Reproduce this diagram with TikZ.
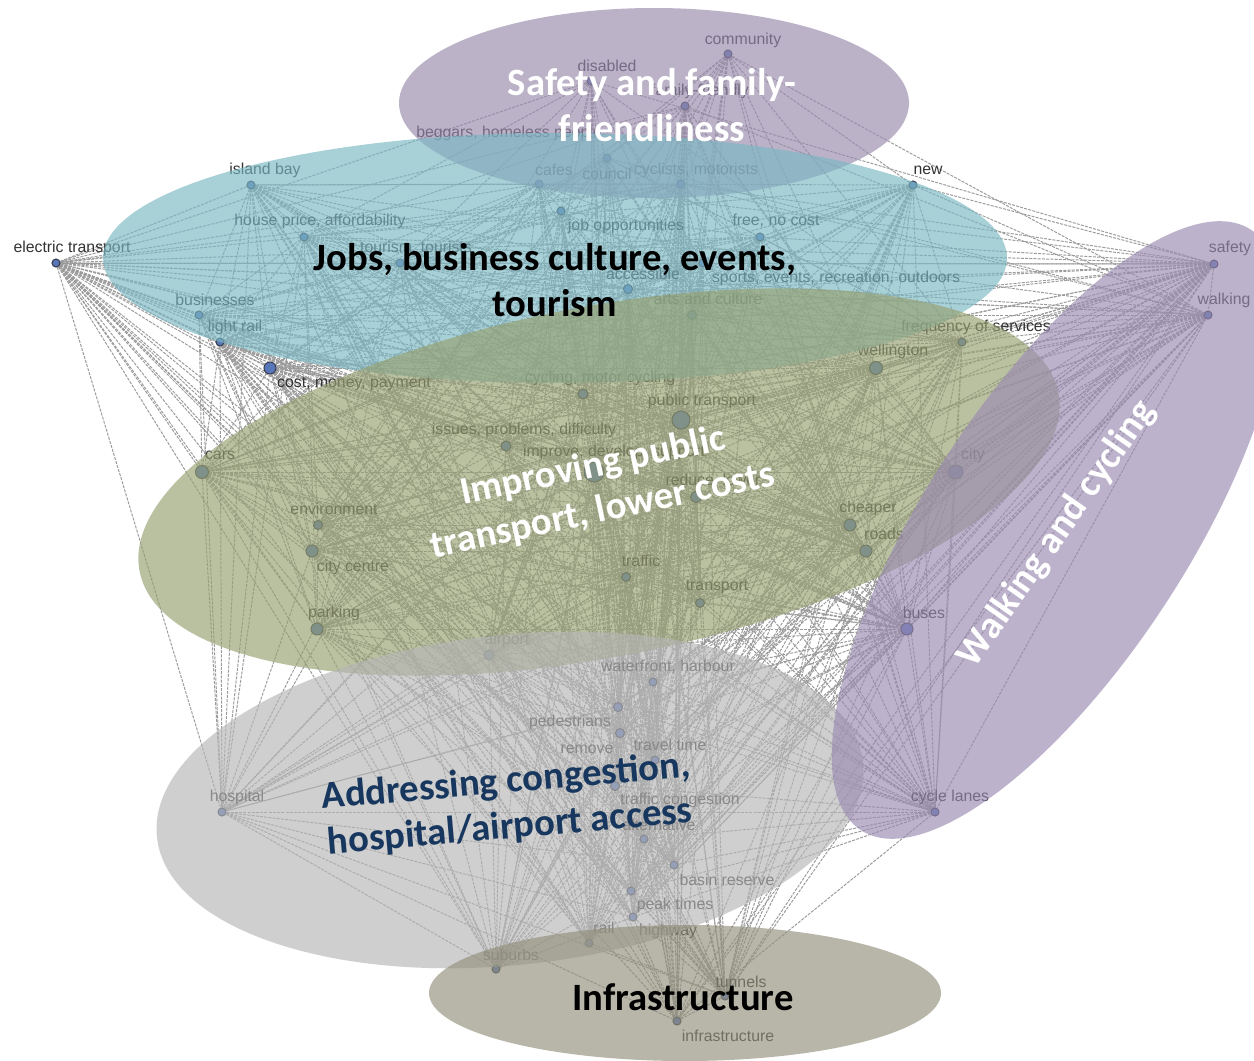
\documentclass[tikz,border=0pt]{standalone}
\usepackage{fontspec}
\newfontfamily\lblfont{Liberation Sans}
\newfontfamily\ttlfont{Carlito}
\pgfdeclarelayer{bglayer}
\pgfdeclarelayer{edgelayer}
\pgfsetlayers{bglayer,edgelayer,main}
\definecolor{dotfill}{RGB}{88,118,186}
\definecolor{dotline}{RGB}{55,60,75}
\definecolor{edgecol}{RGB}{155,155,155}
\definecolor{cPurpleTop}{RGB}{152,137,172}
\definecolor{cTeal}{RGB}{122,183,195}
\definecolor{cGreen}{RGB}{150,160,112}
\definecolor{cGrey}{RGB}{182,182,182}
\definecolor{cKhaki}{RGB}{146,143,122}
\definecolor{cWalk}{RGB}{154,138,177}
\definecolor{navy}{RGB}{23,55,94}
\def\wts{{0.4,0.45,0.5,0.6,0.55,0.6,0.6,0.75,0.6,0.6,0.65,0.6,0.85,0.85,0.65,0.65,0.65,0.65,0.85,0.8,0.7,0.9,0.85,0.75,1,0.8,1,0.95,1,0.8,0.7,0.9,0.85,0.9,0.75,0.8,0.85,0.9,0.75,0.65,0.65,0.6,0.65,0.7,0.65,0.75,0.65,0.65,0.65,0.65,0.6,0.6,0.65,0.55}}
\begin{document}
\begin{tikzpicture}[x=0.02cm,y=-0.02cm,
  dot/.style={circle,draw=dotline,fill=dotfill,line width=0.6pt,inner sep=0pt},
  lbl/.style={font=\lblfont\fontsize{9}{10}\selectfont,text=black!80,inner sep=0pt},
  edge/.style={draw=edgecol,line width=0.55pt,dash pattern=on 1.7pt off 0.7pt},
  blob/.style={fill opacity=0.65},
  ttl/.style={font=\ttlfont\bfseries\fontsize{22}{26}\selectfont,align=center,inner sep=0pt}]
\clip (0,0) rectangle (1254,1061);
\begin{pgfonlayer}{bglayer}
\fill[white] (0,0) rectangle (1254,1061);
\end{pgfonlayer}
% vertices
\foreach \i/\x/\y/\d in {1/728/54/8, 2/591/81/8, 3/685/106/8, 4/607/158/8, 5/539/184/8,
  6/681/184/8, 7/251/185/8, 8/913/185/8, 9/304/237/8, 10/561/211/8,
  11/760/237/8, 12/400/263/8, 13/56/263/8, 14/1214/264/8, 15/628/289/9,
  16/703/263/8, 17/692/315/9, 18/199/315/8, 19/1208/315/8, 20/220/342/8,
  21/962/342/8, 22/876/368/13, 23/270/368/12, 24/583/394/10, 25/681/420/18,
  26/506/446/10, 27/594/472/20, 28/202/472/13, 29/956/472/14, 30/696/497/11,
  31/318/525/9, 32/850/525/12, 33/312/551/12, 34/866/551/12, 35/626/577/9,
  36/700/603/9, 37/317/629/12, 38/907/629/12, 39/489/655/10, 40/653/682/8,
  41/618/707/9, 42/620/733/9, 43/655/760/8, 44/615/786/9, 45/222/812/8,
  46/935/812/8, 47/644/839/8, 48/674/865/8, 49/631/891/8, 50/633/917/8,
  51/589/943/8, 52/496/969/8, 53/725/996/8, 54/677/1021/8}
  \node[dot,minimum size=\d*0.02cm] (n\i) at (\x,\y) {};
% labels
\foreach \i/\x/\y/\txt in {1/743/40/community, 2/607/66/disabled, 3/700/91/family-friendly,
  4/607/174/council, 5/554/170/cafes, 6/696/170/{cyclists, motorists}, 7/265/170/island bay,
  8/928/170/new, 9/320/221/{house price, affordability}, 10/626/226/job opportunities,
  11/776/221/{free, no cost}, 12/416/248/{tourism, tourists}, 13/72/248/electric transport,
  14/1230/248/safety, 15/643/274/accessible, 16/836/278/{sports, events, recreation, outdoors},
  17/708/299/arts and culture, 18/215/300/businesses, 19/1224/300/walking,
  20/235/327/light rail, 21/976/327/frequency of services, 22/893/351/wellington,
  23/354/384/{cost, money, payment}, 24/600/378/{cycling, motor cycling},
  25/702/401/public transport, 26/524/430/{issues, problems, difficulty},
  27/614/452/{improve, develop, support}, 28/220/455/cars, 29/973/455/city,
  30/713/481/{reduce, lower}, 31/334/509/environment, 32/868/508/cheaper,
  33/353/567/city centre, 34/884/534/roads, 35/641/561/traffic, 36/717/587/transport,
  37/334/613/parking, 38/924/613/buses, 39/507/640/airport, 40/668/667/{waterfront, harbour},
  41/570/722/pedestrians, 42/587/749/remove, 43/670/745/travel time,
  44/680/800/traffic congestion, 45/237/797/hospital, 46/950/797/cycle lanes,
  47/659/825/alternative, 48/727/880/basin reserve, 49/675/905/peak times,
  50/668/931/highway, 51/604/928/rail, 52/511/955/suburbs, 53/741/982/tunnels,
  54/728/1036/infrastructure, 55/509/133/{beggars, homeless people}}
  \node[lbl] (l\i) at (\x,\y) {\txt};
% edges
\begin{pgfonlayer}{edgelayer}
\pgfmathsetseed{4}
\foreach \i in {1,...,53}{
  \pgfmathtruncatemacro\jstart{\i+1}
  \foreach \j in {\jstart,...,54}{
    \pgfmathsetmacro\myp{1.2*\wts[\i-1]*\wts[\j-1]}
    \pgfmathsetmacro\myr{rnd}
    \ifdim\myr pt<\myp pt\relax \draw[edge] (n\i) -- (n\j);\fi
  }
}
\end{pgfonlayer}
% cluster overlays
\fill[cPurpleTop,blob] (654,103) ellipse [x radius=255, y radius=95];
\fill[cTeal,blob] (555,258) ellipse [x radius=452, y radius=125];
\fill[cGreen,blob,rotate around={11:(599,482)}] (599,482) ellipse [x radius=468, y radius=175];
\fill[cGrey,blob,rotate around={6:(510,800)}] (510,800) ellipse [x radius=355, y radius=165];
\fill[cKhaki,blob] (685,993) ellipse [x radius=256, y radius=68];
\fill[cWalk,blob,rotate around={57:(1056,530)}] (1056,530) ellipse [x radius=358, y radius=132];
% titles
\node[ttl,text=white] (t1) at (652,105) {Safety and family-\\friendliness};
\node[ttl,text=black] (t2) at (555,280) {Jobs, business culture, events,\\tourism};
\node[ttl,text=white,rotate=12] (t3) at (598,489) {Improving public\\transport, lower costs};
\node[ttl,text=navy,rotate=5] (t4) at (508,805) {Addressing congestion,\\hospital/airport access};
\node[ttl,text=black] (t5) at (683,997) {Infrastructure};
\node[ttl,text=white,rotate=55] (t6) at (1057,534) {Walking and cycling};
\end{tikzpicture}
\end{document}
